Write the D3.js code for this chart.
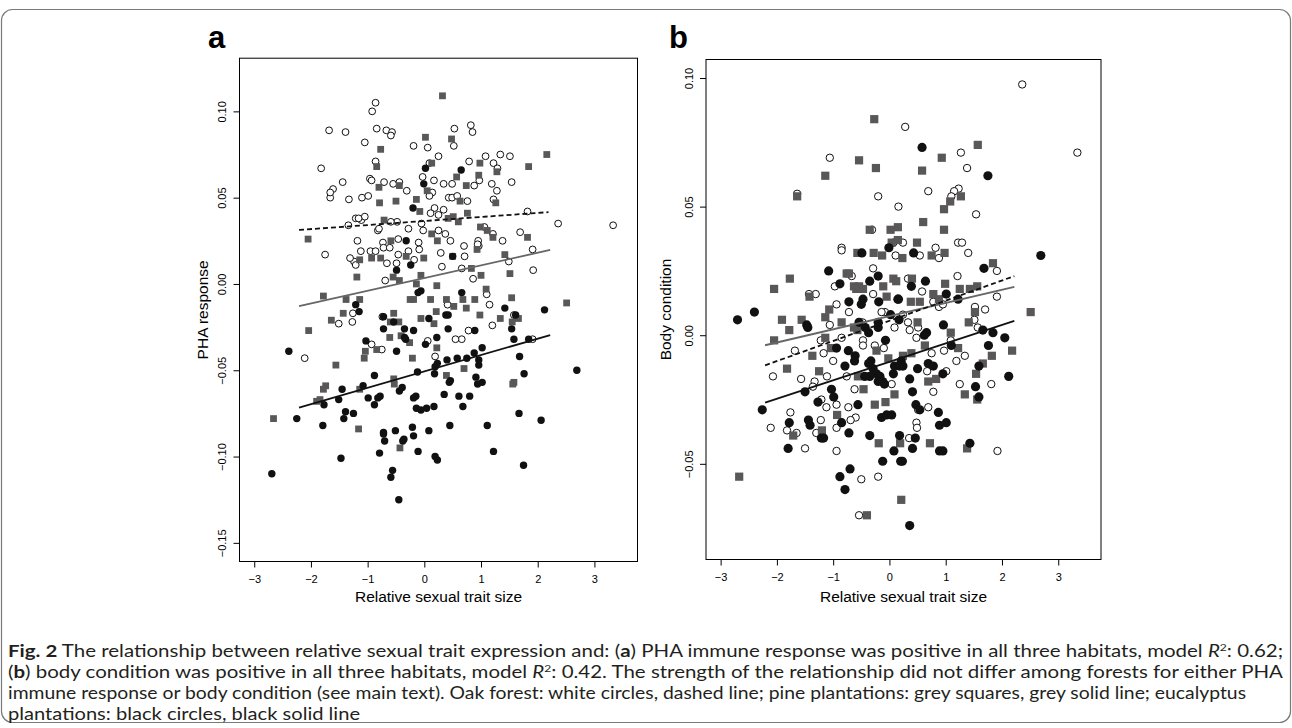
<!DOCTYPE html>
<html>
<head>
<meta charset="utf-8">
<script src="https://cdnjs.cloudflare.com/ajax/libs/d3/7.8.5/d3.min.js"></script>
<style>
    body { margin: 0; background: #fff; }
    svg { display: block; }
</style>
</head>
<body>
<script>
// ---- panel a: PHA response vs relative sexual trait size ----
var oakA = [[-0.86,0.105],[-0.92,0.100],[-1.68,0.089],[-1.39,0.088],[-0.84,0.090],[-0.67,0.089],[-0.57,0.088],[-0.59,0.086],[0.53,0.090],[0.82,0.092],[0.85,0.088],[-0.19,0.080],[0.06,0.079],[0.52,0.080],[-1.05,0.082],[0.25,0.074],[1.08,0.074],[1.34,0.075],[1.51,0.074],[-1.82,0.067],[-0.86,0.071],[0.79,0.071],[1.22,0.070],[1.29,0.067],[0.09,0.070],[-0.96,0.061],[-0.93,0.060],[-0.71,0.059],[-0.55,0.058],[-0.44,0.059],[-1.44,0.059],[-0.03,0.062],[0.17,0.060],[0.34,0.058],[0.49,0.058],[0.88,0.057],[1.54,0.059],[-1.61,0.055],[-1.66,0.050],[-1.33,0.049],[-1.10,0.050],[-0.99,0.051],[-0.31,0.054],[0.14,0.053],[0.09,0.051],[0.43,0.050],[0.49,0.050],[0.58,0.051],[0.76,0.048],[1.22,0.049],[1.28,0.054],[-1.34,0.034],[-1.21,0.038],[-1.11,0.037],[-1.05,0.039],[-0.48,0.036],[0.18,0.044],[0.11,0.041],[0.25,0.040],[0.34,0.043],[-0.05,0.035],[1.82,0.042],[2.36,0.035],[-0.82,0.031],[-0.28,0.032],[-0.02,0.031],[0.25,0.031],[0.37,0.029],[-1.18,0.025],[-0.73,0.024],[-0.46,0.026],[-0.10,0.024],[0.46,0.025],[0.95,0.025],[1.38,0.025],[1.69,0.030],[1.21,0.029],[1.06,0.033],[-1.75,0.017],[-1.12,0.019],[-0.95,0.019],[-0.86,0.019],[-0.72,0.021],[-0.61,0.021],[-0.28,0.019],[-0.09,0.020],[0.29,0.018],[0.71,0.016],[0.70,0.022],[1.91,0.020],[0.96,0.022],[1.49,0.013],[-1.24,0.013],[-1.21,0.011],[-0.49,0.012],[-0.18,0.014],[-0.69,0.002],[0.31,0.010],[0.66,0.009],[0.86,0.003],[1.92,0.008],[3.33,0.034],[1.19,0.058],[0.97,0.060],[-1.66,0.053],[-1.16,0.038],[-0.80,0.032],[-0.59,0.036],[-1.31,0.015],[-0.66,0.012],[-0.46,0.017],[0.94,0.023],[1.10,-0.006],[1.15,-0.012],[-1.26,-0.017],[-1.27,-0.022],[-1.51,-0.023],[-0.74,-0.019],[0.41,-0.012],[0.78,-0.027],[0.66,-0.032],[0.55,-0.032],[1.20,-0.024],[1.58,-0.018],[0.06,-0.033],[-0.93,-0.035],[-0.75,-0.038],[0.19,-0.042],[1.91,-0.032],[-2.11,-0.043]];

var pineA = [[0.32,0.109],[0.02,0.085],[0.48,0.084],[-0.77,0.078],[2.16,0.075],[-0.84,0.068],[0.13,0.070],[0.98,0.070],[1.84,0.068],[1.28,0.065],[-0.80,0.056],[-0.44,0.057],[0.57,0.062],[0.74,0.057],[0.96,0.063],[-0.79,0.047],[-0.50,0.048],[-0.14,0.049],[0.05,0.054],[0.63,0.048],[1.26,0.047],[-0.08,0.042],[-0.71,0.037],[0.42,0.038],[0.51,0.039],[0.60,0.036],[0.76,0.041],[-2.05,0.026],[-0.59,0.025],[0.13,0.029],[0.23,0.025],[0.99,0.033],[1.11,0.031],[1.21,0.027],[1.82,0.027],[-1.14,0.014],[-0.93,0.015],[-0.77,0.015],[-0.32,0.016],[-0.01,0.015],[0.50,0.016],[0.83,0.009],[0.93,0.020],[1.42,0.017],[-1.19,0.004],[-0.55,0.004],[-0.44,0.002],[-0.06,0.005],[1.00,0.005],[1.51,0.006],[-1.78,-0.007],[-1.38,-0.009],[-1.14,-0.009],[-1.43,-0.017],[-1.64,-0.021],[-2.04,-0.027],[-0.54,-0.017],[-0.60,-0.022],[-0.45,-0.022],[-0.19,-0.009],[-0.25,-0.009],[-0.14,0.000],[0.22,-0.001],[0.11,-0.009],[0.39,-0.009],[0.52,-0.013],[0.68,-0.009],[0.74,-0.014],[0.89,-0.009],[0.98,-0.018],[1.09,-0.003],[1.54,-0.008],[1.34,-0.020],[1.66,-0.020],[1.55,-0.022],[0.21,-0.016],[0.17,-0.023],[-0.06,-0.020],[-0.41,-0.030],[-0.26,-0.034],[-0.61,-0.031],[-1.04,-0.039],[-0.84,-0.038],[-1.06,-0.043],[-0.21,-0.043],[0.22,-0.037],[-1.56,-0.047],[2.51,-0.011],[0.70,-0.049],[0.39,-0.053],[-0.54,-0.055],[-0.53,-0.058],[-1.14,-0.061],[-1.74,-0.059],[-1.78,-0.061],[-1.90,-0.068],[-1.84,-0.067],[1.58,-0.057],[1.56,-0.058],[-2.66,-0.078],[-1.16,-0.084],[-0.43,-0.095]];

var eucA = [[0.02,0.067],[0.65,0.066],[-0.01,0.058],[-0.20,0.044],[-0.32,0.025],[0.50,0.016],[-0.49,0.008],[-0.24,0.011],[-1.21,-0.012],[-1.15,-0.016],[-0.72,-0.019],[-0.54,-0.022],[-0.72,-0.026],[-0.35,-0.026],[-0.19,-0.027],[-0.06,-0.004],[-0.11,-0.005],[-0.35,-0.031],[-0.33,-0.032],[0.08,-0.020],[0.38,-0.018],[0.42,-0.018],[0.66,-0.005],[0.42,-0.026],[0.89,-0.027],[1.42,-0.014],[1.61,-0.018],[1.54,-0.026],[2.12,-0.015],[1.58,-0.032],[1.84,-0.032],[-1.03,-0.033],[-0.49,-0.039],[0.02,-0.035],[0.22,-0.031],[-2.39,-0.039],[0.23,-0.046],[0.19,-0.048],[0.18,-0.052],[-0.12,-0.051],[0.40,-0.044],[0.58,-0.043],[0.75,-0.043],[0.88,-0.040],[0.96,-0.044],[0.96,-0.047],[1.02,-0.037],[0.91,-0.054],[0.94,-0.058],[1.02,-0.057],[0.46,-0.056],[0.44,-0.057],[1.68,-0.042],[1.76,-0.052],[2.69,-0.050],[-0.88,-0.053],[-1.08,-0.059],[-1.45,-0.061],[-1.51,-0.067],[-0.99,-0.066],[-0.82,-0.066],[-0.88,-0.070],[-0.78,-0.065],[-0.44,-0.062],[-0.39,-0.060],[-0.19,-0.066],[-0.15,-0.065],[-0.14,-0.072],[-0.06,-0.073],[0.04,-0.072],[0.17,-0.071],[0.35,-0.064],[0.61,-0.065],[0.80,-0.065],[0.68,-0.071],[-1.77,-0.070],[-2.25,-0.078],[-1.39,-0.074],[-1.25,-0.075],[-1.42,-0.078],[-1.79,-0.082],[-0.72,-0.086],[-0.72,-0.087],[-0.51,-0.085],[-0.21,-0.083],[0.08,-0.085],[0.45,-0.082],[1.11,-0.082],[1.67,-0.075],[2.06,-0.079],[-0.70,-0.091],[-0.36,-0.090],[-0.38,-0.091],[-0.19,-0.088],[-0.79,-0.098],[-0.11,-0.097],[0.19,-0.100],[0.23,-0.102],[1.22,-0.097],[-1.47,-0.101],[1.75,-0.105],[-2.69,-0.110],[-0.56,-0.108],[-0.59,-0.112],[-0.45,-0.125]];

// fitted lines, panel a: [x0, y0, x1, y1]
var fitOakA = [-2.21, 0.0313, 2.19, 0.0416];
var fitPineA = [-2.21, -0.0128, 2.22, 0.0197];
var fitEucA = [-2.21, -0.0716, 2.22, -0.0296];

// ---- panel b: body condition vs relative sexual trait size ----
var oakB = [[2.36,0.0975],[0.28,0.081],[3.34,0.071],[-1.06,0.069],[1.27,0.071],[1.38,0.065],[-1.64,0.055],[-0.20,0.054],[0.69,0.056],[1.23,0.057],[1.15,0.056],[1.10,0.054],[0.16,0.050],[1.54,0.047],[-0.31,0.041],[0.07,0.036],[0.24,0.036],[-0.85,0.034],[-0.85,0.033],[0.11,0.031],[-0.29,0.026],[-0.67,0.023],[-0.97,0.019],[-1.43,0.016],[-1.31,0.016],[-0.94,0.012],[-0.08,0.009],[-0.72,0.009],[-1.06,0.004],[0.09,0.003],[-1.22,-0.002],[-0.85,-0.001],[-1.68,-0.006],[-0.47,-0.002],[-0.47,-0.004],[-0.26,-0.004],[-1.17,-0.007],[-1.00,-0.010],[-2.07,-0.016],[-1.57,-0.017],[-1.11,-0.016],[-1.33,-0.018],[-1.36,-0.020],[-0.76,-0.016],[0.04,-0.019],[-0.62,-0.021],[-0.94,-0.027],[-0.73,-0.028],[-1.12,-0.028],[-1.21,-0.025],[-1.76,-0.030],[-0.60,-0.032],[-1.22,-0.033],[-0.94,-0.036],[-0.69,-0.033],[-2.11,-0.036],[-1.82,-0.037],[-1.65,-0.038],[-1.30,-0.038],[-1.50,-0.044],[-0.94,-0.045],[-0.20,-0.055],[-0.50,-0.056],[-0.48,0.005],[-0.14,0.009],[-0.10,-0.005],[-0.29,0.016],[0.54,0.031],[0.88,0.030],[0.82,0.034],[1.22,0.036],[1.29,0.036],[1.40,0.032],[1.91,0.025],[1.21,0.023],[0.33,0.022],[0.58,0.017],[1.91,0.015],[0.78,0.013],[0.88,0.011],[0.95,0.012],[1.52,0.011],[1.70,0.010],[1.51,0.006],[1.57,0.003],[0.24,0.008],[0.33,0.005],[0.51,0.003],[0.36,0.002],[0.48,-0.001],[1.09,-0.002],[0.97,-0.006],[1.34,-0.008],[1.19,-0.010],[0.75,-0.007],[1.01,-0.014],[0.67,-0.014],[1.25,-0.019],[1.81,-0.019],[0.78,-0.022],[0.69,-0.028],[0.51,-0.029],[0.48,-0.034],[0.49,-0.036],[0.35,-0.040],[1.92,-0.045],[-0.54,-0.070]];

var pineB = [[-0.27,0.084],[1.57,0.074],[-0.54,0.068],[0.93,0.069],[-0.24,0.065],[0.58,0.064],[-1.14,0.062],[-1.64,0.054],[1.27,0.054],[1.08,0.052],[0.97,0.049],[0.60,0.044],[0.15,0.042],[0.02,0.041],[-0.35,0.041],[0.97,0.041],[0.04,0.036],[0.15,0.037],[-0.57,0.032],[-0.28,0.032],[-0.13,0.031],[-0.76,0.024],[-0.72,0.024],[0.07,0.022],[0.12,0.021],[-1.77,0.022],[-0.63,0.019],[-0.54,0.019],[-0.11,0.019],[-2.05,0.018],[-1.42,0.015],[-0.59,0.018],[-0.47,0.018],[-0.05,0.015],[-1.07,0.010],[-1.91,0.006],[-1.78,0.002],[-1.56,0.006],[-1.14,0.007],[-0.85,0.005],[-0.63,0.003],[-0.57,0.002],[-2.05,-0.002],[-1.14,-0.001],[-1.04,-0.005],[-1.37,-0.008],[-0.23,-0.006],[-0.02,-0.009],[-1.82,-0.013],[-1.25,-0.014],[-0.56,-0.016],[-0.46,-0.021],[-0.26,-0.027],[-0.07,-0.026],[0.09,-0.023],[-0.93,-0.031],[-1.71,-0.039],[-1.20,-0.037],[-0.19,-0.042],[-2.67,-0.055],[0.75,0.031],[0.98,0.032],[0.23,0.030],[0.49,0.036],[1.84,0.028],[0.40,0.022],[0.99,0.020],[1.25,0.018],[1.43,0.018],[1.56,0.019],[0.78,0.016],[0.88,0.014],[0.54,0.013],[0.38,0.013],[1.52,0.009],[1.41,0.005],[2.51,0.009],[0.50,0.005],[1.09,0.001],[1.22,-0.005],[2.18,-0.006],[1.82,-0.008],[0.63,-0.004],[0.39,-0.007],[0.24,-0.008],[1.66,-0.011],[1.54,-0.015],[0.83,-0.017],[0.69,-0.018],[1.34,-0.023],[1.56,-0.025],[0.19,-0.042],[0.72,-0.042],[1.38,-0.044],[0.21,-0.064],[-0.40,-0.070]];

var eucB = [[0.58,0.073],[1.75,0.062],[-0.49,0.032],[-0.01,0.034],[-1.08,0.025],[-0.20,0.023],[-0.35,0.021],[-0.88,0.020],[-0.72,0.013],[-0.47,0.014],[-0.50,0.012],[-0.19,0.013],[0.16,0.014],[-2.70,0.006],[-2.40,0.009],[-1.47,0.004],[-1.45,0.003],[-0.54,0.005],[-0.43,0.003],[-0.20,0.003],[-0.20,0.005],[-0.37,0.001],[0.02,0.008],[-0.94,-0.005],[-0.73,-0.006],[-0.61,-0.008],[-0.62,-0.010],[-0.79,-0.012],[-0.07,-0.002],[-0.33,-0.010],[-0.37,-0.011],[-0.29,-0.013],[-0.23,-0.015],[-0.17,-0.016],[-0.12,-0.018],[-0.09,-0.019],[-0.20,-0.018],[0.07,-0.015],[-0.35,-0.016],[-0.44,-0.016],[0.09,-0.012],[-1.50,-0.022],[-2.26,-0.029],[-1.27,-0.026],[-1.03,-0.021],[-0.99,-0.024],[-0.56,-0.027],[-0.85,-0.034],[-1.78,-0.034],[-1.44,-0.033],[-1.41,-0.035],[-0.14,-0.032],[-0.05,-0.031],[0.04,-0.031],[-1.21,-0.040],[-1.17,-0.040],[-0.72,-0.038],[-0.35,-0.039],[0.08,-0.045],[-1.80,-0.044],[-0.12,-0.049],[-0.70,-0.052],[-0.88,-0.055],[0.43,0.032],[2.69,0.031],[1.68,0.026],[0.64,0.021],[0.39,0.019],[1.01,0.016],[1.22,0.014],[0.15,0.014],[0.96,0.004],[0.17,0.006],[1.66,0.002],[1.84,0.001],[0.62,0.000],[0.66,0.001],[2.05,-0.001],[1.10,-0.004],[1.76,-0.004],[0.21,-0.010],[0.18,-0.012],[0.24,-0.012],[1.59,-0.012],[2.12,-0.016],[0.69,-0.011],[0.78,-0.012],[0.95,-0.015],[0.50,-0.013],[0.36,-0.017],[0.41,-0.022],[1.53,-0.020],[1.59,-0.024],[0.47,-0.027],[0.54,-0.029],[0.87,-0.030],[0.89,-0.035],[1.01,-0.034],[0.18,-0.039],[0.46,-0.040],[0.41,-0.044],[1.43,-0.042],[0.89,-0.045],[0.95,-0.045],[0.20,-0.049],[0.23,-0.049],[-0.79,-0.060],[0.36,-0.074]];

var fitOakB = [-2.21, -0.0117, 2.22, 0.0230];
var fitPineB = [-2.21, -0.0039, 2.22, 0.0188];
var fitEucB = [-2.21, -0.0262, 2.22, 0.0056];

// ticks
var xTicks = [-3, -2, -1, 0, 1, 2, 3];
var yTicksA = [-0.15, -0.10, -0.05, 0.00, 0.05, 0.10];
var yTicksB = [-0.05, 0.00, 0.05, 0.10];

// caption lines
var captionLines = [
    [{t: "Fig. 2", b: true}, {t: " The relationship between relative sexual trait expression and: ("}, {t: "a", b: true}, {t: ") PHA immune response was positive in all three habitats, model "}, {t: "R", i: true}, {t: "2", sup: true}, {t: ": 0.62;"}],
    [{t: "("}, {t: "b", b: true}, {t: ") body condition was positive in all three habitats, model "}, {t: "R", i: true}, {t: "2", sup: true}, {t: ": 0.42. The strength of the relationship did not differ among forests for either PHA"}],
    [{t: "immune response or body condition (see main text). Oak forest: white circles, dashed line; pine plantations: grey squares, grey solid line; eucalyptus"}],
    [{t: "plantations: black circles, black solid line"}]
];
var captionWidths = [1275, 1275, 1238, 352];

var W = 1292, H = 728;
var svg = d3.select("body").append("svg").attr("width", W).attr("height", H);

// outer rounded frame
svg.append("rect")
    .attr("x", 1.5).attr("y", 9.5)
    .attr("width", W - 3).attr("height", 713)
    .attr("rx", 11)
    .attr("fill", "none")
    .attr("stroke", "#7a7a7a")
    .attr("stroke-width", 1.2);

function drawPanel(opt) {
    var g = svg.append("g");
    var x = d3.scaleLinear().domain([-3.26, 3.76]).range([opt.left, opt.right]);
    var y = d3.scaleLinear().domain(opt.yDomain).range([opt.bottom, opt.top]);

    var xAxis = d3.axisBottom(x).tickValues(xTicks).tickSize(6).tickSizeOuter(0).tickFormat(d3.format("d"));
    var gx = g.append("g").attr("transform", "translate(0," + opt.bottom + ")").call(xAxis);
    gx.select(".domain").remove();
    gx.selectAll("text").attr("y", 13.5).attr("font-size", 11).attr("font-family", "Liberation Sans, Arial, sans-serif").attr("fill", "#000");
    gx.selectAll("line").attr("stroke", "#000");

    var yAxis = d3.axisLeft(y).tickValues(opt.yTicks).tickSize(6).tickSizeOuter(0).tickFormat(d3.format(".2f"));
    var gy = g.append("g").attr("transform", "translate(" + opt.left + ",0)").call(yAxis);
    gy.select(".domain").remove();
    gy.selectAll("line").attr("stroke", "#000");
    gy.selectAll("text")
        .attr("transform", "rotate(-90)")
        .attr("x", 0).attr("y", -17.5).attr("dy", null)
        .attr("dominant-baseline", "central")
        .attr("text-anchor", "middle")
        .attr("font-size", 11).attr("font-family", "Liberation Sans, Arial, sans-serif").attr("fill", "#000");

    // plot box
    g.append("rect")
        .attr("x", opt.left).attr("y", opt.top)
        .attr("width", opt.right - opt.left).attr("height", opt.bottom - opt.top)
        .attr("fill", "none").attr("stroke", "#000").attr("stroke-width", 1);

    // points: oak (open circles), pine (grey squares), eucalyptus (black circles)
    g.append("g").selectAll("circle").data(opt.oak).enter().append("circle")
        .attr("cx", function (d) { return x(d[0]); })
        .attr("cy", function (d) { return y(d[1]); })
        .attr("r", opt.rOpen)
        .attr("fill", "#fff").attr("stroke", "#111").attr("stroke-width", 1);

    g.append("g").selectAll("rect").data(opt.pine).enter().append("rect")
        .attr("x", function (d) { return x(d[0]) - opt.sq / 2; })
        .attr("y", function (d) { return y(d[1]) - opt.sq / 2; })
        .attr("width", opt.sq).attr("height", opt.sq)
        .attr("fill", "#5a5758");

    g.append("g").selectAll("circle").data(opt.euc).enter().append("circle")
        .attr("cx", function (d) { return x(d[0]); })
        .attr("cy", function (d) { return y(d[1]); })
        .attr("r", opt.rFill)
        .attr("fill", "#111");

    // fitted lines
    var fits = [
        {f: opt.fitPine, color: "#666", dash: null},
        {f: opt.fitEuc, color: "#111", dash: null},
        {f: opt.fitOak, color: "#111", dash: "5,3"}
    ];
    fits.forEach(function (l) {
        g.append("line")
            .attr("x1", x(l.f[0])).attr("y1", y(l.f[1]))
            .attr("x2", x(l.f[2])).attr("y2", y(l.f[3]))
            .attr("stroke", l.color).attr("stroke-width", 1.8)
            .attr("stroke-dasharray", l.dash);
    });

    // axis titles
    g.append("text")
        .attr("x", (opt.left + opt.right) / 2).attr("y", 602)
        .attr("text-anchor", "middle")
        .attr("font-size", 15.5).attr("font-family", "Liberation Sans, Arial, sans-serif")
        .text("Relative sexual trait size");
    g.append("text")
        .attr("transform", "translate(" + opt.yTitleX + "," + (opt.top + opt.bottom) / 2 + ")rotate(-90)")
        .attr("text-anchor", "middle").attr("dominant-baseline", "central")
        .attr("font-size", 15.5).attr("font-family", "Liberation Sans, Arial, sans-serif")
        .text(opt.yTitle);

    // panel letter
    g.append("text")
        .attr("x", opt.letterX).attr("y", 48)
        .attr("font-size", 31).attr("font-weight", "bold")
        .attr("font-family", "Liberation Sans, Arial, sans-serif")
        .text(opt.letter);
}

drawPanel({
    left: 239.5, right: 637.5, top: 58.2, bottom: 561.5,
    yDomain: [-0.1608, 0.1308], yTicks: yTicksA,
    oak: oakA, pine: pineA, euc: eucA,
    fitOak: fitOakA, fitPine: fitPineA, fitEuc: fitEucA,
    rOpen: 3.4, rFill: 3.7, sq: 6.8,
    yTitle: "PHA response", yTitleX: 202,
    letter: "a", letterX: 208
});

drawPanel({
    left: 706, right: 1101, top: 59.5, bottom: 559.5,
    yDomain: [-0.0872, 0.1072], yTicks: yTicksB,
    oak: oakB, pine: pineB, euc: eucB,
    fitOak: fitOakB, fitPine: fitPineB, fitEuc: fitEucB,
    rOpen: 3.7, rFill: 4.6, sq: 8.2,
    yTitle: "Body condition", yTitleX: 665,
    letter: "b", letterX: 669
});

// caption
var capBase = [657, 678, 699, 720];
captionLines.forEach(function (parts, i) {
    var t = svg.append("text")
        .attr("x", 8).attr("y", capBase[i])
        .attr("font-size", 17).attr("font-family", "Lato, sans-serif")
        .attr("fill", "#231f20")
        .attr("textLength", captionWidths[i])
        .attr("lengthAdjust", "spacingAndGlyphs");
    parts.forEach(function (p) {
        var s = t.append("tspan").text(p.t);
        if (p.b) s.attr("font-weight", "bold");
        if (p.i) s.attr("font-style", "italic");
        if (p.sup) s.attr("font-size", 10).attr("baseline-shift", "super");
    });
});
</script>
</body>
</html>
